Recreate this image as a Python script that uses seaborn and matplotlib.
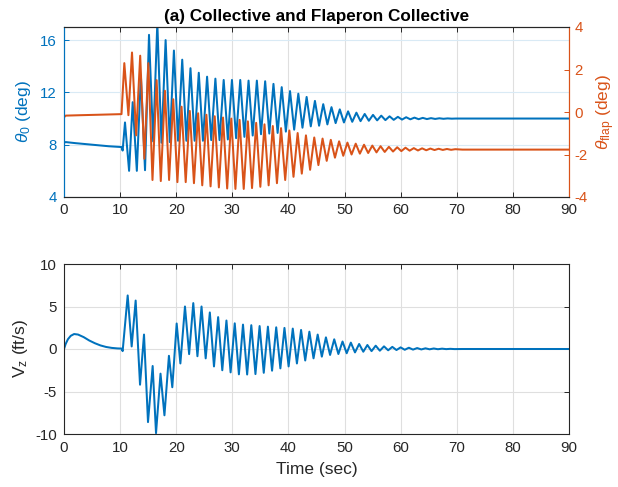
import matplotlib
matplotlib.use("Agg")
import matplotlib.pyplot as plt
import pandas as pd
import seaborn as sns

# ---------------- data ----------------
# theta_0 (left axis, deg)
theta0_pre_t = [0.0, 0.3, 2.0, 5.0, 8.0, 10.25, 10.45]
theta0_pre_v = [8.15, 8.2, 8.12, 8.0, 7.88, 7.82, 7.55]
theta0_peak_t = [10.87, 12.24, 13.7, 15.15, 16.63, 18.11, 19.59, 21.07, 22.54, 24.02,
                 25.5, 26.98, 28.46, 29.93, 31.41, 32.89, 34.37, 35.85, 37.33, 38.8,
                 40.28, 41.76, 43.24, 44.72, 46.2, 47.67, 49.15, 50.63, 52.11, 53.59,
                 55.07, 56.54, 58.02, 59.5, 60.98, 62.46, 63.94, 65.41, 66.89, 68.37, 69.85]
theta0_peak_v = [9.7, 11.25, 13.3, 16.4, 17.3, 16.0, 15.2, 14.5, 13.85, 13.5,
                 13.2, 13.05, 12.95, 12.95, 12.95, 12.9, 12.9, 12.85, 12.65, 12.4,
                 12.1, 11.9, 11.65, 11.35, 11.1, 10.87, 10.7, 10.55, 10.45, 10.35,
                 10.28, 10.22, 10.17, 10.13, 10.1, 10.07, 10.05, 10.03, 10.02, 10.01, 10.0]
theta0_trough_t = [11.6, 12.98, 14.44, 15.89, 17.37, 18.85, 20.33, 21.81, 23.28, 24.76,
                   26.24, 27.72, 29.2, 30.67, 32.15, 33.63, 35.11, 36.59, 38.07, 39.54,
                   41.02, 42.5, 43.98, 45.46, 46.94, 48.41, 49.89, 51.37, 52.85, 54.33,
                   55.81, 57.28, 58.76, 60.24, 61.72, 63.2, 64.68, 66.15, 67.63, 69.11]
theta0_trough_v = [6.0, 6.0, 6.05, 8.25, 8.15, 8.2, 8.3, 8.3, 8.3, 8.3,
                   8.35, 8.35, 8.4, 8.5, 8.6, 8.7, 8.8, 8.85, 8.9, 9.0,
                   9.15, 9.3, 9.4, 9.45, 9.55, 9.65, 9.7, 9.75, 9.8, 9.83,
                   9.86, 9.88, 9.9, 9.92, 9.94, 9.95, 9.96, 9.97, 9.98, 9.99]
theta0_post_t = [71.0, 90.0]
theta0_post_v = [10.0, 10.0]

# theta_flap (right axis, deg)
flap_pre_t = [0.0, 0.3, 3.0, 6.0, 10.25]
flap_pre_v = [-0.25, -0.17, -0.15, -0.13, -0.1]
flap_peak_t = [10.75, 12.12, 13.58, 15.03, 16.51, 17.99, 19.47, 20.95, 22.42, 23.9,
               25.38, 26.86, 28.34, 29.81, 31.29, 32.77, 34.25, 35.73, 37.21, 38.68,
               40.16, 41.64, 43.12, 44.6, 46.08, 47.55, 49.03, 50.51, 51.99, 53.47,
               54.95, 56.42, 57.9, 59.38, 60.86, 62.34, 63.82, 65.29, 66.77, 68.25, 69.73]
flap_peak_v = [2.3, 2.8, 2.65, 2.3, 1.5, 1.0, 0.6, 0.25, 0.05, -0.06,
               -0.13, -0.2, -0.26, -0.31, -0.37, -0.44, -0.51, -0.58, -0.66, -0.76,
               -0.87, -0.99, -1.1, -1.2, -1.25, -1.31, -1.38, -1.44, -1.49, -1.54,
               -1.58, -1.61, -1.64, -1.66, -1.68, -1.7, -1.71, -1.72, -1.73, -1.74, -1.75]
flap_trough_t = [11.48, 12.86, 14.32, 15.77, 17.25, 18.73, 20.21, 21.69, 23.16, 24.64,
                 26.12, 27.6, 29.08, 30.55, 32.03, 33.51, 34.99, 36.47, 37.95, 39.42,
                 40.9, 42.38, 43.86, 45.34, 46.82, 48.29, 49.77, 51.25, 52.73, 54.21,
                 55.69, 57.16, 58.64, 60.12, 61.6, 63.08, 64.56, 66.03, 67.51, 68.99]
flap_trough_v = [-0.15, -1.1, -2.2, -3.2, -3.25, -3.2, -3.3, -3.3, -3.35, -3.45,
                 -3.5, -3.55, -3.6, -3.62, -3.62, -3.58, -3.52, -3.45, -3.35, -3.2,
                 -3.05, -2.9, -2.72, -2.5, -2.3, -2.15, -2.06, -2.0, -1.96, -1.93,
                 -1.9, -1.88, -1.86, -1.84, -1.82, -1.81, -1.8, -1.79, -1.785, -1.78]
flap_post_t = [71.0, 90.0]
flap_post_v = [-1.77, -1.77]

# V_z (ft/s)
vz_pre_t = [0.0, 0.3, 0.7, 1.2, 1.8, 2.5, 3.5, 4.5, 5.5, 6.5, 7.5, 8.5, 9.5, 10.25, 10.45]
vz_pre_v = [0.0, 0.6, 1.15, 1.55, 1.76, 1.7, 1.4, 1.0, 0.68, 0.42, 0.24, 0.13, 0.07, 0.05, -0.25]
vz_peak_t = [11.35, 12.77, 14.26, 15.8, 17.2, 18.7, 20.08, 21.56, 23.04, 24.51,
             25.99, 27.47, 28.95, 30.43, 31.9, 33.38, 34.86, 36.34, 37.82, 39.29,
             40.77, 42.25, 43.73, 45.21, 46.68, 48.16, 49.64, 51.12, 52.6, 54.07,
             55.55, 57.03, 58.51, 59.99, 61.46, 62.94, 64.42, 65.9, 67.38, 68.85]
vz_peak_v = [6.3, 5.7, 1.7, -2.0, -2.9, -0.8, 3.0, 5.0, 5.4, 5.0,
             4.3, 3.75, 3.35, 3.02, 2.87, 2.8, 2.7, 2.63, 2.55, 2.48,
             2.4, 2.24, 2.04, 1.7, 1.37, 1.14, 0.88, 0.75, 0.59, 0.47,
             0.39, 0.31, 0.25, 0.19, 0.15, 0.11, 0.08, 0.06, 0.04, 0.02]
vz_trough_t = [12.06, 13.55, 14.97, 16.4, 17.9, 19.3, 20.74, 22.3, 23.78, 25.25,
               26.73, 28.21, 29.69, 31.17, 32.64, 34.12, 35.6, 37.08, 38.56, 40.03,
               41.51, 42.99, 44.47, 45.95, 47.42, 48.9, 50.38, 51.86, 53.34, 54.81,
               56.29, 57.77, 59.25, 60.73, 62.2, 63.68, 65.16, 66.64, 68.12, 69.59]
vz_trough_v = [0.3, -4.2, -8.6, -9.9, -7.8, -4.5, -1.7, -0.6, -0.85, -1.1,
               -2.05, -2.5, -2.75, -2.98, -3.0, -2.95, -2.8, -2.55, -2.28, -2.05,
               -1.7, -1.35, -1.1, -0.9, -0.7, -0.59, -0.5, -0.4, -0.32, -0.25,
               -0.2, -0.15, -0.12, -0.09, -0.07, -0.05, -0.035, -0.025, -0.015, -0.01]
vz_post_t = [71.0, 90.0]
vz_post_v = [0.0, 0.0]

x_ticks = [0, 10, 20, 30, 40, 50, 60, 70, 80, 90]
theta0_ticks = [4, 8, 12, 16]
flap_ticks = [-4, -2, 0, 2, 4]
vz_ticks = [-10, -5, 0, 5, 10]

title = "(a) Collective and Flaperon Collective"


def build(pre_t, pre_v, pk_t, pk_v, tr_t, tr_v, post_t, post_v):
    return pd.DataFrame({"t": [*pre_t, *pk_t, *tr_t, *post_t],
                         "v": [*pre_v, *pk_v, *tr_v, *post_v]})


df_theta0 = build(theta0_pre_t, theta0_pre_v, theta0_peak_t, theta0_peak_v,
                  theta0_trough_t, theta0_trough_v, theta0_post_t, theta0_post_v)
df_flap = build(flap_pre_t, flap_pre_v, flap_peak_t, flap_peak_v,
                flap_trough_t, flap_trough_v, flap_post_t, flap_post_v)
df_vz = build(vz_pre_t, vz_pre_v, vz_peak_t, vz_peak_v,
              vz_trough_t, vz_trough_v, vz_post_t, vz_post_v)

# ---------------- style ----------------
sns.set_theme(style="white")
plt.rcParams["font.family"] = ["Liberation Sans", "DejaVu Sans"]
plt.rcParams["mathtext.fontset"] = "custom"
plt.rcParams["mathtext.rm"] = "Liberation Sans"
plt.rcParams["mathtext.it"] = "Liberation Sans:italic"
plt.rcParams["mathtext.bf"] = "Liberation Sans:bold"
plt.rcParams["axes.unicode_minus"] = False

BLUE = "#0072BD"
ORANGE = "#D95319"
DARK = "#262626"
GRID = "#DFDFDF"
GRID_BLUE = "#D9EAF5"
LW = 1.45
TICK_FS = 10.8
LABEL_FS = 12.5
TITLE_FS = 12.3

W, H = 618, 487
fig = plt.figure(figsize=(W / 100, H / 100), dpi=100)
ax1 = fig.add_axes([64 / W, 1 - 197 / H, 505 / W, 170 / H])
ax2 = ax1.twinx()
ax3 = fig.add_axes([64 / W, 1 - 434 / H, 505 / W, 170 / H])

line_kw = dict(lw=LW, estimator=None, sort=True,
               solid_joinstyle="round", solid_capstyle="round")
sns.lineplot(data=df_theta0, x="t", y="v", ax=ax1, color=BLUE, **line_kw)
sns.lineplot(data=df_flap, x="t", y="v", ax=ax2, color=ORANGE, **line_kw)
sns.lineplot(data=df_vz, x="t", y="v", ax=ax3, color=BLUE, **line_kw)

# ---- top axes ----
ax1.set_xlim(0, 90)
ax1.set_ylim(4, 17)
ax2.set_ylim(-4, 4)
ax1.set_xticks(x_ticks)
ax1.set_yticks(theta0_ticks)
ax2.set_yticks(flap_ticks)
ax1.xaxis.grid(True, color=GRID, lw=0.8)
ax1.yaxis.grid(True, color=GRID_BLUE, lw=0.8)
ax1.set_axisbelow(True)
ax1.set_xlabel("")
ax1.set_ylabel(r"$\theta_0$ (deg)", color=BLUE, fontsize=LABEL_FS, labelpad=5)
ax2.set_ylabel(r"$\theta_{\mathrm{flap}}$ (deg)", color=ORANGE, fontsize=LABEL_FS,
               labelpad=5)
ax1.set_title(title, fontweight="bold", fontsize=TITLE_FS, pad=4, color="black")

for ax in (ax1, ax2):
    for s in ("top", "bottom"):
        ax.spines[s].set_color(DARK)
        ax.spines[s].set_linewidth(0.8)
    ax.spines["left"].set_color(BLUE)
    ax.spines["right"].set_color(ORANGE)
    ax.spines["left"].set_linewidth(0.8)
    ax.spines["right"].set_linewidth(0.8)

ax1.tick_params(axis="x", direction="in", length=3.5, width=0.7, top=True,
                bottom=True, colors=DARK, labelsize=TICK_FS, pad=4)
ax1.tick_params(axis="y", direction="in", length=3.5, width=0.7, left=True,
                right=False, colors=BLUE, labelsize=TICK_FS, pad=5)
ax2.tick_params(axis="y", direction="in", length=3.5, width=0.7, right=True,
                colors=ORANGE, labelsize=TICK_FS, pad=4)

# ---- bottom axes ----
ax3.set_xlim(0, 90)
ax3.set_ylim(-10, 10)
ax3.set_xticks(x_ticks)
ax3.set_yticks(vz_ticks)
ax3.grid(True, color=GRID, lw=0.8)
ax3.set_axisbelow(True)
ax3.set_xlabel("Time (sec)", fontsize=LABEL_FS, color=DARK, labelpad=5)
ax3.set_ylabel(r"V$_{\mathrm{z}}$ (ft/s)", fontsize=LABEL_FS, color=DARK, labelpad=4)
for s in ax3.spines.values():
    s.set_color(DARK)
    s.set_linewidth(0.8)
ax3.tick_params(axis="both", direction="in", length=3.5, width=0.7, top=True,
                right=True, colors=DARK, labelsize=TICK_FS, pad=5)

fig.savefig("out.png", dpi=100, facecolor="white")
